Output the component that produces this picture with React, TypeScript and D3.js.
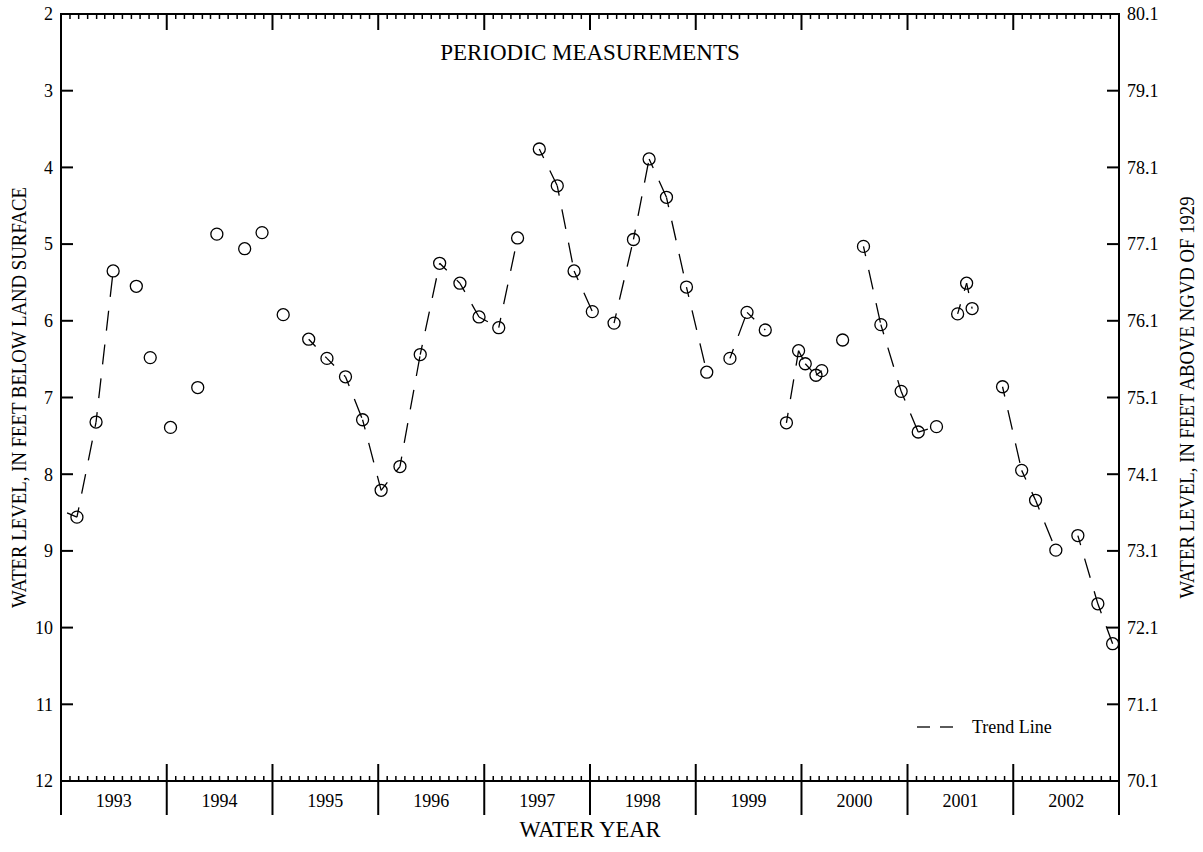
import React from "react";
import * as d3 from "d3";

// ---- data ----
const measureDates: string[] = [
  "1992-08-07", "1992-11-25", "1993-01-30", "1993-03-30", "1993-06-18", "1993-08-05",
  "1993-10-14", "1994-01-16", "1994-03-23", "1994-06-27", "1994-08-26", "1994-11-07",
  "1995-02-03", "1995-04-07", "1995-06-10", "1995-08-08", "1995-10-11", "1995-12-15",
  "1996-02-23", "1996-04-30", "1996-07-09", "1996-09-13", "1996-11-20", "1997-01-24",
  "1997-04-09", "1997-06-10", "1997-08-07", "1997-10-09", "1997-12-23", "1998-02-28",
  "1998-04-23", "1998-06-22", "1998-08-30", "1998-11-08", "1999-01-27", "1999-03-27",
  "1999-05-29", "1999-08-10", "1999-09-21", "1999-10-14", "1999-11-20", "1999-12-10",
  "2000-02-20", "2000-05-02", "2000-07-01", "2000-09-09", "2000-11-07", "2001-01-09",
  "2001-03-23", "2001-04-23", "2001-05-12", "2001-08-25", "2001-10-30", "2001-12-17",
  "2002-02-25", "2002-05-12", "2002-07-20", "2002-09-09",
];
const waterLevels: number[] = [
  8.38, 8.56, 7.32, 5.35, 5.55, 6.48,
  7.39, 6.87, 4.87, 5.06, 4.85, 5.92,
  6.24, 6.49, 6.73, 7.29, 8.21, 7.90,
  6.44, 5.25, 5.51, 5.95, 6.09, 4.92,
  3.76, 4.24, 5.35, 5.88, 6.03, 4.94,
  3.89, 4.39, 5.56, 6.67, 6.49, 5.89,
  6.12, 7.33, 6.39, 6.56, 6.71, 6.65,
  6.25, 5.03, 6.05, 6.92, 7.45, 7.38,
  5.91, 5.51, 5.84, 6.86, 7.95, 8.34,
  8.99, 8.80, 9.69, 10.21,
];
// index ranges (inclusive) of measurements joined by the trend line
const trendRuns: [number, number][] = [
  [0, 3], [12, 23], [24, 27], [28, 33], [34, 36], [37, 41],
  [43, 47], [48, 50], [51, 54], [55, 57],
];
const waterYears: string[] = ["1993", "1994", "1995", "1996", "1997", "1998", "1999", "2000", "2001", "2002"];
const depthTicks: number[] = [2, 3, 4, 5, 6, 7, 8, 9, 10, 11, 12];
const landSurfaceAltitude = 82.1;

const W = 1203;
const H = 852;
const M = { left: 61, right: 1119, top: 14, bottom: 781 };
const FONT = "'Liberation Serif', 'Times New Roman', serif";

const parse = (s: string) => {
  const [y, m, d] = s.split("-").map(Number);
  return new Date(Date.UTC(y, m - 1, d));
};

export default function App() {
  const start = new Date(Date.UTC(1992, 9, 1));
  const end = new Date(Date.UTC(2002, 9, 1));
  const x = d3.scaleUtc().domain([start, end]).range([M.left, M.right]);
  const y = d3.scaleLinear().domain([2, 12]).range([M.top, M.bottom]);

  const months = d3.utcMonth.range(start, d3.utcDay.offset(end, 1));
  const yearStarts = months.filter((d) => d.getUTCMonth() === 9);

  const pts = measureDates.map((d, i) => ({ x: x(parse(d)), y: y(waterLevels[i]) }));
  const line = d3.line<{ x: number; y: number }>().x((d) => d.x).y((d) => d.y);

  const segs: { x: number; y: number }[][] = [];
  trendRuns.forEach(([a, b]) => {
    for (let i = a; i < b; i++) segs.push([pts[i], pts[i + 1]]);
  });

  return (
    <svg width={W} height={H} style={{ position: "absolute", left: 0, top: 0, background: "#fff" }}
      fontFamily={FONT}>
      <defs>
        <clipPath id="plot">
          <rect x={M.left} y={M.top} width={M.right - M.left} height={M.bottom - M.top} />
        </clipPath>
      </defs>
      <rect x={0} y={0} width={W} height={H} fill="#fff" />

      {/* trend line */}
      <g clipPath="url(#plot)">
        {segs.map((s, i) => (
          <path key={i} d={line(s) || ""} fill="none" stroke="#000" strokeWidth={1.3}
            strokeDasharray="20 14" strokeDashoffset={10} />
        ))}
        {pts.map((p, i) => (
          <circle key={i} cx={p.x} cy={p.y} r={6} fill="none" stroke="#000" strokeWidth={1.3} />
        ))}
      </g>

      {/* month ticks */}
      {months.map((d, i) => {
        const xv = x(d);
        const isYear = d.getUTCMonth() === 9;
        if (isYear) return null;
        return (
          <g key={i}>
            <line x1={xv} x2={xv} y1={M.top} y2={M.top + 5} stroke="#000" strokeWidth={1.5} />
            <line x1={xv} x2={xv} y1={M.bottom} y2={M.bottom - 5} stroke="#000" strokeWidth={1.5} />
          </g>
        );
      })}
      {yearStarts.map((d, i) => {
        const xv = x(d);
        return (
          <g key={i}>
            <line x1={xv} x2={xv} y1={M.top} y2={M.top + 16} stroke="#000" strokeWidth={2} />
            <line x1={xv} x2={xv} y1={M.bottom - 17} y2={M.bottom + 34} stroke="#000" strokeWidth={2} />
          </g>
        );
      })}

      {/* year labels */}
      {waterYears.map((yr, i) => {
        const a = x(new Date(Date.UTC(1992 + i, 9, 1)));
        const b = x(new Date(Date.UTC(1993 + i, 9, 1)));
        return (
          <text key={yr} x={(a + b) / 2} y={807} textAnchor="middle" fontSize={18}>{yr}</text>
        );
      })}

      {/* y ticks */}
      {depthTicks.map((t) => (
        <g key={t}>
          <line x1={M.left} x2={M.left + 12} y1={y(t)} y2={y(t)} stroke="#000" strokeWidth={2} />
          <line x1={M.right} x2={M.right - 12} y1={y(t)} y2={y(t)} stroke="#000" strokeWidth={2} />
          <text x={53} y={y(t)} dy="0.35em" textAnchor="end" fontSize={18}>{t}</text>
          <text x={1127} y={y(t)} dy="0.35em" textAnchor="start" fontSize={18}>
            {(landSurfaceAltitude - t).toFixed(1)}
          </text>
        </g>
      ))}

      {/* frame */}
      <rect x={M.left} y={M.top} width={M.right - M.left} height={M.bottom - M.top}
        fill="none" stroke="#000" strokeWidth={2} />

      {/* titles */}
      <text x={(M.left + M.right) / 2} y={52} dy="0.35em" textAnchor="middle" fontSize={23}>PERIODIC MEASUREMENTS</text>
      <text x={(M.left + M.right) / 2} y={829} dy="0.35em" textAnchor="middle" fontSize={22.5}>WATER YEAR</text>
      <text transform={`translate(19, ${(M.top + M.bottom) / 2}) rotate(-90)`} dy="0.35em" textAnchor="middle"
        fontSize={20} textLength={421} lengthAdjust="spacingAndGlyphs">
        WATER LEVEL, IN FEET BELOW LAND SURFACE
      </text>
      <text transform={`translate(1187, ${(M.top + M.bottom) / 2}) rotate(-90)`} dy="0.35em" textAnchor="middle"
        fontSize={20} textLength={402} lengthAdjust="spacingAndGlyphs">
        WATER LEVEL, IN FEET ABOVE NGVD OF 1929
      </text>

      {/* legend */}
      <line x1={917} x2={930} y1={727} y2={727} stroke="#000" strokeWidth={1.3} />
      <line x1={940} x2={953} y1={727} y2={727} stroke="#000" strokeWidth={1.3} />
      <text x={972} y={727} dy="0.35em" fontSize={18}>Trend Line</text>
    </svg>
  );
}
